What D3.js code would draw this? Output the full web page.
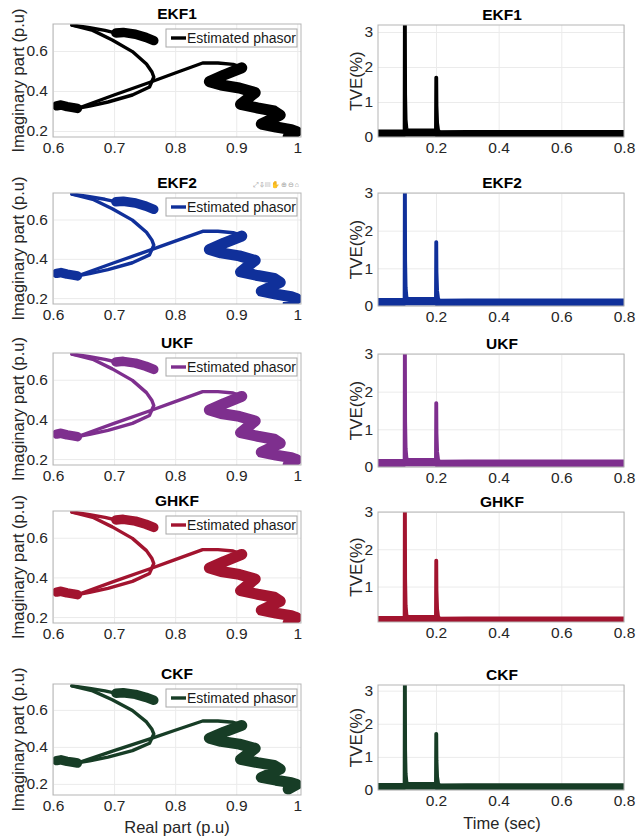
<!DOCTYPE html>
<html>
<head>
<meta charset="utf-8">
<script src="https://cdn.jsdelivr.net/npm/d3@7"></script>
<style>
  body { margin: 0; background: #fff; }
  svg text { font-family: "Liberation Sans", Arial, Helvetica, sans-serif; }
</style>
</head>
<body>
<svg id="chart" width="636" height="838"></svg>
<script>
// one row per filter
const filters = ["EKF1", "EKF2", "UKF", "GHKF", "CKF"];
const colors = ["#000000", "#10309a", "#7e2f8e", "#a2142f", "#173d26"];

// estimated phasor trajectory (real / imaginary part, p.u)
const leadRe = [0.631, 0.66, 0.685, 0.70];
const leadIm = [0.73, 0.716, 0.703, 0.692];
const upBlobRe = [0.703, 0.715, 0.735, 0.752, 0.765];
const upBlobIm = [0.690, 0.693, 0.684, 0.668, 0.652];
const arcRe = [0.631, 0.665, 0.697, 0.73, 0.753, 0.762, 0.765, 0.758, 0.73, 0.69, 0.66, 0.642];
const arcIm = [0.73, 0.703, 0.655, 0.597, 0.535, 0.495, 0.47, 0.42, 0.38, 0.345, 0.325, 0.315];
const lowBlobRe = [0.606, 0.613, 0.623, 0.633, 0.640];
const lowBlobIm = [0.326, 0.330, 0.322, 0.317, 0.313];
const riseRe = [0.642, 0.70, 0.76, 0.80, 0.845, 0.87, 0.895, 0.909];
const riseIm = [0.315, 0.38, 0.445, 0.49, 0.54, 0.54, 0.533, 0.518];
const zigRe = [0.909, 0.88, 0.856, 0.875, 0.905, 0.931, 0.918, 0.907, 0.935, 0.962, 0.972, 0.955, 0.941, 0.965, 0.99, 0.999, 0.985];
const zigIm = [0.516, 0.48, 0.447, 0.43, 0.415, 0.392, 0.36, 0.333, 0.315, 0.30, 0.28, 0.255, 0.235, 0.22, 0.207, 0.197, 0.172];

// TVE (%) against time (sec)
const tveT = [0.015, 0.0995, 0.1003, 0.1012, 0.102, 0.1035, 0.106, 0.11, 0.15, 0.1995, 0.2005, 0.2013, 0.202, 0.204, 0.207, 0.212, 0.25, 0.4, 0.6, 0.8];
const tveV = [0.1, 0.1, 3.4, 3.4, 1.2, 0.5, 0.25, 0.15, 0.13, 0.12, 1.7, 1.7, 0.9, 0.4, 0.2, 0.12, 0.1, 0.1, 0.1, 0.1];
// noise band round the TVE baseline
const bandT = [0.015, 0.1, 0.1, 0.2, 0.2, 0.3, 0.5, 0.8];
const bandLo = [0.0, 0.0, 0.03, 0.03, 0.0, 0.01, 0.02, 0.02];
const bandHi = [0.19, 0.19, 0.22, 0.22, 0.17, 0.18, 0.18, 0.18];

// tick labels
const phXTicks = [0.6, 0.7, 0.8, 0.9, 1];
const phYTicks = [0.2, 0.4, 0.6];
const tveXTicks = [0.2, 0.4, 0.6, 0.8];
const tveYTicks = [0, 1, 2, 3];

// layout of the subplots (pixels)
const leftRows = [
  { top: 24, bottom: 137, ylim: [0.17, 0.735] },
  { top: 193, bottom: 304, ylim: [0.17, 0.735] },
  { top: 353, bottom: 465, ylim: [0.17, 0.735] },
  { top: 511, bottom: 623, ylim: [0.17, 0.735] },
  { top: 684, bottom: 795, ylim: [0.14, 0.74] }
];
const rightRows = [
  { top: 25, bottom: 137, ylim: [0, 3.2] },
  { top: 193, bottom: 306, ylim: [0, 3.0] },
  { top: 354, bottom: 467, ylim: [0, 3.0] },
  { top: 512, bottom: 622, ylim: [0.05, 3.0] },
  { top: 685, bottom: 790, ylim: [0, 3.17] }
];

const svg = d3.select("#chart");
const fmt = d3.format("~g");
const zip = (a, b) => a.map((v, k) => [v, b[k]]);

// grid, box, tick labels and clip for one axes
function frame(g, x, y, xt, yt, id) {
  const [x0, x1] = x.range();
  const [yb, yt0] = y.range();
  const h = yb - yt0, w = x1 - x0;
  const yv = yt.filter(v => v >= y.domain()[0]);

  g.append("g")
    .attr("transform", `translate(0,${yb})`)
    .call(d3.axisBottom(x).tickValues(xt).tickSize(-h).tickFormat(""))
    .call(a => a.select(".domain").remove())
    .selectAll("line").attr("stroke", "#ebebeb");
  g.append("g")
    .attr("transform", `translate(${x0},0)`)
    .call(d3.axisLeft(y).tickValues(yv).tickSize(-w).tickFormat(""))
    .call(a => a.select(".domain").remove())
    .selectAll("line").attr("stroke", "#ebebeb");

  g.append("g")
    .attr("transform", `translate(0,${yb})`)
    .call(d3.axisBottom(x).tickValues(xt).tickSize(0).tickPadding(5).tickFormat(fmt))
    .call(a => a.select(".domain").remove())
    .selectAll("text").attr("font-size", 15.5).attr("fill", "#262626")
    .attr("font-family", '"Liberation Sans", Arial, sans-serif');
  g.append("g")
    .attr("transform", `translate(${x0},0)`)
    .call(d3.axisLeft(y).tickValues(yv).tickSize(0).tickPadding(5).tickFormat(fmt))
    .call(a => a.select(".domain").remove())
    .selectAll("text").attr("font-size", 15.5).attr("fill", "#262626")
    .attr("font-family", '"Liberation Sans", Arial, sans-serif');

  g.append("clipPath").attr("id", id)
    .append("rect").attr("x", x0).attr("y", yt0).attr("width", w).attr("height", h);

  return () => g.append("rect")
    .attr("x", x0).attr("y", yt0).attr("width", w).attr("height", h)
    .attr("fill", "none").attr("stroke", "#b5b5b5");
}

filters.forEach((name, i) => {
  const col = colors[i];

  // ---------- left: phasor trajectory
  const L = leftRows[i];
  const xL = d3.scaleLinear().domain([0.6, 1.006]).range([53, 301]);
  const yL = d3.scaleLinear().domain(L.ylim).range([L.bottom, L.top]);
  const gL = svg.append("g");
  const boxL = frame(gL, xL, yL, phXTicks, phYTicks, "clipL" + i);

  const line = d3.line().x(d => xL(d[0])).y(d => yL(d[1]));
  const pieces = [
    { pts: zip(leadRe, leadIm), w: 3.4 },
    { pts: zip(arcRe, arcIm), w: 3.4 },
    { pts: zip(riseRe, riseIm), w: 3.4 },
    { pts: zip(upBlobRe, upBlobIm), w: 9.5 },
    { pts: zip(lowBlobRe, lowBlobIm), w: 9.5 },
    { pts: zip(zigRe, zigIm), w: 11 }
  ];
  const plotL = gL.append("g").attr("clip-path", `url(#clipL${i})`);
  pieces.forEach(p => {
    plotL.append("path")
      .attr("d", line(p.pts))
      .attr("fill", "none")
      .attr("stroke", col)
      .attr("stroke-width", p.w)
      .attr("stroke-linejoin", "round")
      .attr("stroke-linecap", "round");
  });
  boxL();

  // legend
  const lg = gL.append("g").attr("transform", `translate(166,${L.top + 5})`);
  lg.append("rect").attr("width", 131).attr("height", 18)
    .attr("fill", "#fff").attr("stroke", "#a8a8a8");
  lg.append("line").attr("x1", 5).attr("x2", 20).attr("y1", 9).attr("y2", 9)
    .attr("stroke", col).attr("stroke-width", 3.4);
  lg.append("text").attr("x", 21).attr("y", 9).attr("dy", "0.35em")
    .attr("font-size", 14).attr("fill", "#1a1a1a").text("Estimated phasor");

  gL.append("text").attr("x", 177).attr("y", L.top - 10).attr("dy", "0.35em")
    .attr("text-anchor", "middle").attr("font-size", 15.5).attr("font-weight", "bold")
    .text(name);
  gL.append("text")
    .attr("transform", `translate(18,${(L.top + L.bottom) / 2}) rotate(-90)`)
    .attr("text-anchor", "middle").attr("dy", "0.35em")
    .attr("font-size", 16.5).attr("fill", "#262626")
    .text("Imaginary part (p.u)");

  // ---------- right: TVE
  const R = rightRows[i];
  const xR = d3.scaleLinear().domain([0.015, 0.8]).range([378, 624]);
  const yR = d3.scaleLinear().domain(R.ylim).range([R.bottom, R.top]);
  const gR = svg.append("g");
  const boxR = frame(gR, xR, yR, tveXTicks, tveYTicks, "clipR" + i);

  const plotR = gR.append("g").attr("clip-path", `url(#clipR${i})`);
  plotR.append("path")
    .attr("d", d3.area().x(d => xR(d[0])).y0(d => yR(d[1])).y1(d => yR(d[2]))(
      bandT.map((t, k) => [t, bandLo[k], bandHi[k]])))
    .attr("fill", col).attr("stroke", col).attr("stroke-width", 1.5);
  plotR.append("path")
    .attr("d", d3.line().x(d => xR(d[0])).y(d => yR(d[1]))(zip(tveT, tveV)))
    .attr("fill", "none").attr("stroke", col).attr("stroke-width", 3.6)
    .attr("stroke-linejoin", "round");
  boxR();

  gR.append("text").attr("x", 502).attr("y", R.top - 10).attr("dy", "0.35em")
    .attr("text-anchor", "middle").attr("font-size", 15.5).attr("font-weight", "bold")
    .text(name);
  gR.append("text")
    .attr("transform", `translate(356,${(R.top + R.bottom) / 2}) rotate(-90)`)
    .attr("text-anchor", "middle").attr("dy", "0.35em")
    .attr("font-size", 17).attr("fill", "#262626")
    .text("TVE(%)");
});

// x axis titles under the last row
svg.append("text").attr("x", 177).attr("y", 827).attr("dy", "0.35em")
  .attr("text-anchor", "middle").attr("font-size", 16.5).attr("fill", "#262626")
  .text("Real part (p.u)");
svg.append("text").attr("x", 502).attr("y", 823).attr("dy", "0.35em")
  .attr("text-anchor", "middle").attr("font-size", 16.5).attr("fill", "#262626")
  .text("Time (sec)");

// faint axes toolbar left over above the EKF2 plot
svg.append("text").attr("x", 300).attr("y", 187)
  .attr("text-anchor", "end").attr("font-size", 7).attr("fill", "#a0a0a0")
  .attr("letter-spacing", 1)
  .text("⤢⇩▤✋⊕⊖⌂");
</script>
</body>
</html>
